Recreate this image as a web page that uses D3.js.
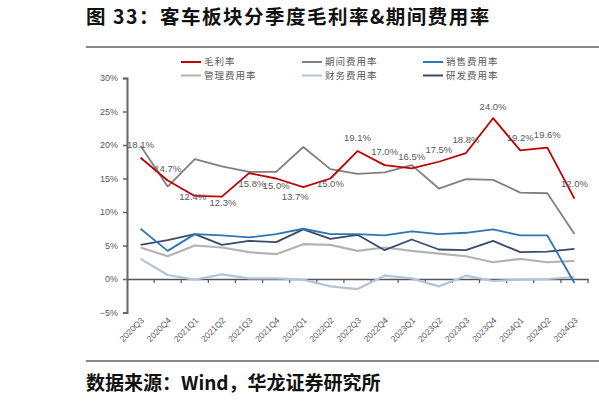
<!DOCTYPE html>
<html>
<head>
<meta charset="utf-8">
<script src="https://cdn.jsdelivr.net/npm/d3@7"></script>
<style>
  html, body { margin: 0; padding: 0; background: #fff; }
  svg { display: block; }
</style>
</head>
<body>
<script>
// quarters on the x axis
const quarters = ['2020Q3', '2020Q4', '2021Q1', '2021Q2', '2021Q3', '2021Q4', '2022Q1', '2022Q2', '2022Q3',
    '2022Q4', '2023Q1', '2023Q2', '2023Q3', '2023Q4', '2024Q1', '2024Q2', '2024Q3'];

// values in %
const grossMargin = [18.1, 14.7, 12.4, 12.3, 15.8, 15.0, 13.7, 15.0, 19.1, 17.0, 16.5, 17.5, 18.8, 24.0, 19.2, 19.6, 12.0];
const periodExpense = [19.9, 13.8, 17.9, 16.8, 16.0, 16.0, 19.7, 16.4, 15.7, 15.9, 17.0, 13.5, 14.9, 14.8, 12.9, 12.8, 6.7];
const salesExpense = [7.5, 4.2, 6.7, 6.5, 6.2, 6.7, 7.5, 6.7, 6.7, 6.5, 7.1, 6.7, 6.9, 7.4, 6.5, 6.5, -0.6];
const mgmtExpense = [4.7, 3.4, 5.0, 4.7, 4.0, 3.7, 5.2, 5.1, 4.2, 4.7, 4.2, 3.8, 3.4, 2.5, 3.0, 2.5, 2.7];
const finExpense = [3.0, 0.6, -0.1, 0.7, 0.1, 0.1, -0.1, -1.1, -1.5, 0.5, 0.1, -1.1, 0.5, -0.3, -0.1, 0.0, 0.3];
const rdExpense = [5.1, 5.8, 6.7, 5.1, 5.7, 5.5, 7.4, 6.0, 6.6, 4.3, 5.9, 4.4, 4.3, 5.7, 4.0, 4.1, 4.5];

const yTicks = [-5, 0, 5, 10, 15, 20, 25, 30];

// label nudges for the gross margin labels (pixels from the point)
const labelNudge = [[0, -13], [0, -12], [-2, 1], [1, 6], [3, 11], [0, 7], [-8, 9], [0, 5], [0, -13],
    [0, -13], [0, -12], [0, -12], [0, -13], [0, -12], [0, -13], [0, -13], [0, -15]];

const series = [
    {name: '毛利率', values: grossMargin, color: '#c00000', width: 1.8},
    {name: '期间费用率', values: periodExpense, color: '#808080', width: 1.8},
    {name: '销售费用率', values: salesExpense, color: '#2e75b6', width: 1.8},
    {name: '管理费用率', values: mgmtExpense, color: '#b3b3b3', width: 2.2},
    {name: '财务费用率', values: finExpense, color: '#b4c4d8', width: 2.2},
    {name: '研发费用率', values: rdExpense, color: '#3b4a6b', width: 1.8}
];

const W = 599, H = 409;
const svg = d3.select('body').append('svg')
    .attr('width', W)
    .attr('height', H);

// title + rules
svg.append('text')
    .attr('x', 86).attr('y', 24)
    .style('font-family', '"Noto Sans CJK SC", sans-serif')
    .style('font-weight', 700)
    .style('font-size', '19.5px')
    .style('letter-spacing', '1.5px')
    .attr('fill', '#111')
    .text('图 33：客车板块分季度毛利率&期间费用率');

svg.append('line').attr('x1', 86).attr('x2', W).attr('y1', 47).attr('y2', 47)
    .attr('stroke', '#888').attr('stroke-width', 2);
svg.append('line').attr('x1', 86).attr('x2', W).attr('y1', 361).attr('y2', 361)
    .attr('stroke', '#888').attr('stroke-width', 2);

svg.append('text')
    .attr('x', 86).attr('y', 390)
    .style('font-family', '"Noto Sans CJK SC", sans-serif')
    .style('font-weight', 700)
    .style('font-size', '19px')
    .attr('fill', '#111')
    .text('数据来源：Wind，华龙证券研究所');

// scales
const x = d3.scaleBand()
    .domain(quarters)
    .range([127, 588]);

const y = d3.scaleLinear()
    .domain([-5, 30])
    .range([312.5, 78]);

const g = svg.append('g');

// y axis
const yAxis = g.append('g')
    .attr('transform', 'translate(127,0)')
    .call(d3.axisLeft(y).tickValues(yTicks).tickSize(4).tickPadding(5)
        .tickFormat(d => (d < 0 ? '−' + Math.abs(d) : d) + '%'));
yAxis.select('.domain').attr('stroke', '#666').attr('stroke-width', 2);
yAxis.selectAll('.tick line').attr('stroke', '#666').attr('stroke-width', 1.5);
yAxis.selectAll('.tick text')
    .style('font-family', '"Liberation Sans", Arial, sans-serif')
    .style('font-size', '9px')
    .attr('fill', '#595959');

// x axis at zero
const xAxis = g.append('g')
    .attr('transform', 'translate(0,' + y(0) + ')')
    .call(d3.axisBottom(x).tickSize(0).tickPadding(0));
xAxis.select('.domain').attr('stroke', '#555').attr('stroke-width', 1.5);
xAxis.selectAll('.tick text').remove();

// band edge ticks
const edges = quarters.map(q => x(q)).concat([x.range()[1]]);
g.selectAll('line.xtick')
    .data(edges.slice(1))
    .enter().append('line')
    .attr('class', 'xtick')
    .attr('x1', d => d).attr('x2', d => d)
    .attr('y1', y(0)).attr('y2', y(0) + 4)
    .attr('stroke', '#555').attr('stroke-width', 1.2);

// rotated quarter labels under the plot
g.selectAll('text.xlab')
    .data(quarters)
    .enter().append('text')
    .attr('class', 'xlab')
    .attr('transform', d => 'translate(' + (x(d) + x.bandwidth() / 2 + 4) + ',' + 321 + ') rotate(-45)')
    .attr('text-anchor', 'end')
    .style('font-family', '"Liberation Sans", Arial, sans-serif')
    .style('font-size', '8.5px')
    .attr('fill', '#595959')
    .text(d => d);

// lines
const line = d3.line()
    .x((d, i) => x(quarters[i]) + x.bandwidth() / 2)
    .y(d => y(d));

const drawOrder = [1, 3, 4, 5, 2, 0];
drawOrder.forEach(si => {
    const s = series[si];
    g.append('path')
        .datum(s.values)
        .attr('fill', 'none')
        .attr('stroke', s.color)
        .attr('stroke-width', s.width)
        .attr('stroke-linejoin', 'round')
        .attr('d', line);
});

// gross margin labels
g.selectAll('text.gm')
    .data(grossMargin)
    .enter().append('text')
    .attr('class', 'gm')
    .attr('x', (d, i) => x(quarters[i]) + x.bandwidth() / 2 + labelNudge[i][0])
    .attr('y', (d, i) => y(d) + labelNudge[i][1])
    .attr('dy', '0.35em')
    .attr('text-anchor', 'middle')
    .style('font-family', '"Liberation Sans", Arial, sans-serif')
    .style('font-size', '9.5px')
    .attr('fill', '#595959')
    .text(d => d.toFixed(1) + '%');

// legend
const legend = svg.append('g');
const legItems = legend.selectAll('g.leg')
    .data(series)
    .enter().append('g')
    .attr('class', 'leg')
    .attr('transform', (d, i) => 'translate(' + (181 + (i % 3) * 121) + ',' + (62 + Math.floor(i / 3) * 13.5) + ')');

legItems.append('line')
    .attr('x1', 0).attr('x2', 20)
    .attr('stroke', d => d.color)
    .attr('stroke-width', 2);

legItems.append('text')
    .attr('x', 23)
    .attr('dy', '0.35em')
    .style('font-family', '"Noto Sans CJK SC", sans-serif')
    .style('font-size', '9.5px')
    .style('letter-spacing', '1px')
    .attr('fill', '#595959')
    .text(d => d.name);
</script>
</body>
</html>
